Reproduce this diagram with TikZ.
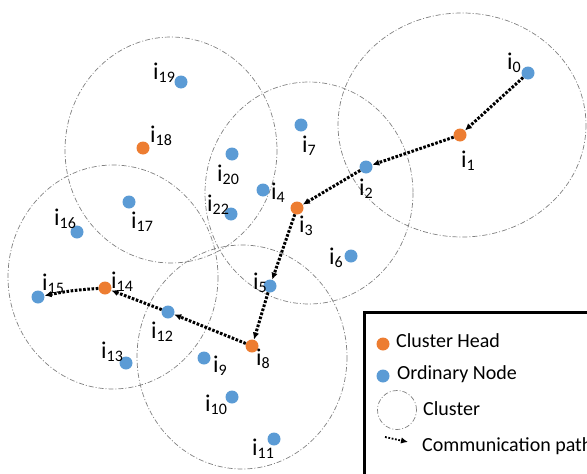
\documentclass[tikz,border=0pt]{standalone}
\usepackage{fontspec}
\setmainfont{Carlito}
\usetikzlibrary{arrows.meta}
\definecolor{headcol}{HTML}{ED7D31}
\definecolor{ordcol}{HTML}{5B9BD5}
\newcommand{\lab}[1]{i\raisebox{-3pt}{\fontsize{16}{16}\selectfont #1}}
\begin{document}
\begin{tikzpicture}[x=1pt,y=-1pt,>={Latex[length=7pt,width=6.5pt]},
    head/.style={circle,fill=headcol,minimum size=13pt,inner sep=0pt},
    ord/.style={circle,fill=ordcol,minimum size=13pt,inner sep=0pt},
    clus/.style={draw=gray,line width=.7pt,dash pattern=on 5pt off 2pt on 1pt off 2pt},
    comm/.style={->,line width=3pt,dash pattern=on 2.6pt off 1.6pt},
    lbl/.style={font=\fontsize{24}{24}\selectfont,inner sep=0pt},
    leg/.style={font=\fontsize{20}{20}\selectfont,inner sep=0pt,anchor=base west}]
\useasboundingbox (0,0) rectangle (587,474);
\clip (0,0) rectangle (587,474);
\draw[clus] (171,150) ellipse (106 and 113);
\draw[clus] (309,193) ellipse (104 and 111);
\draw[clus] (462,125) ellipse (124 and 112);
\draw[clus] (113,277) ellipse (105 and 112);
\draw[clus] (242,357) ellipse (105 and 112);
\foreach \n/\x/\y in {0/528/73,2/366/167,4/263/190,5/270/286,6/351/256,7/301/125,9/204/358,10/232/397,11/274/439,12/168/312,13/126/363,15/38/297,16/77/232,17/129/202,19/181/82,20/232/154,22/231/214}
{
    \node[ord] (i\n) at (\x,\y) {};
}
\foreach \n/\x/\y in {1/460/135,3/297/208,8/252/346,14/105/288,18/143/148}
{
    \node[head] (i\n) at (\x,\y) {};
}
\foreach \n/\x/\y in {0/514/63,1/468/161,2/366/189,3/306/226,4/278/193,5/260/283,6/336/258,7/309/146,8/263/359,9/220/366,10/216/405,11/263/449,12/162/332,13/112/352,14/122/282,15/53/284,16/65/219,17/142/222,18/161/136,19/164/73,20/228/175,22/218/205}
{
    \node[lbl] (l\n) at (\x,\y) {\lab{\n}};
}
\foreach \a/\b in {0/1,1/2,2/3,3/5,5/8,8/12,12/14}
{
    \draw[comm] (i\a)--(i\b);
}
\draw[comm] (i14) to[bend right=4] (i15);
\draw[line width=3pt] (364,312) rectangle (600,490);
\node[head] (khead) at (383,344) {};
\node[leg] (thead) at (396,347) {Cluster Head};
\node[ord] (kord) at (383,376) {};
\node[leg] (tord) at (397,379) {Ordinary Node};
\node[clus,circle,minimum size=39pt,inner sep=0pt] (kclus) at (397,410) {};
\node[leg] (tclus) at (423,415) {Cluster};
\coordinate (ka) at (385,437);
\coordinate (kb) at (408,442);
\draw[->,line width=1.8pt,dash pattern=on 1.8pt off 1.6pt] (ka)--(kb);
\node[leg] (tpath) at (422,451) {Communication path};
\end{tikzpicture}
\end{document}
